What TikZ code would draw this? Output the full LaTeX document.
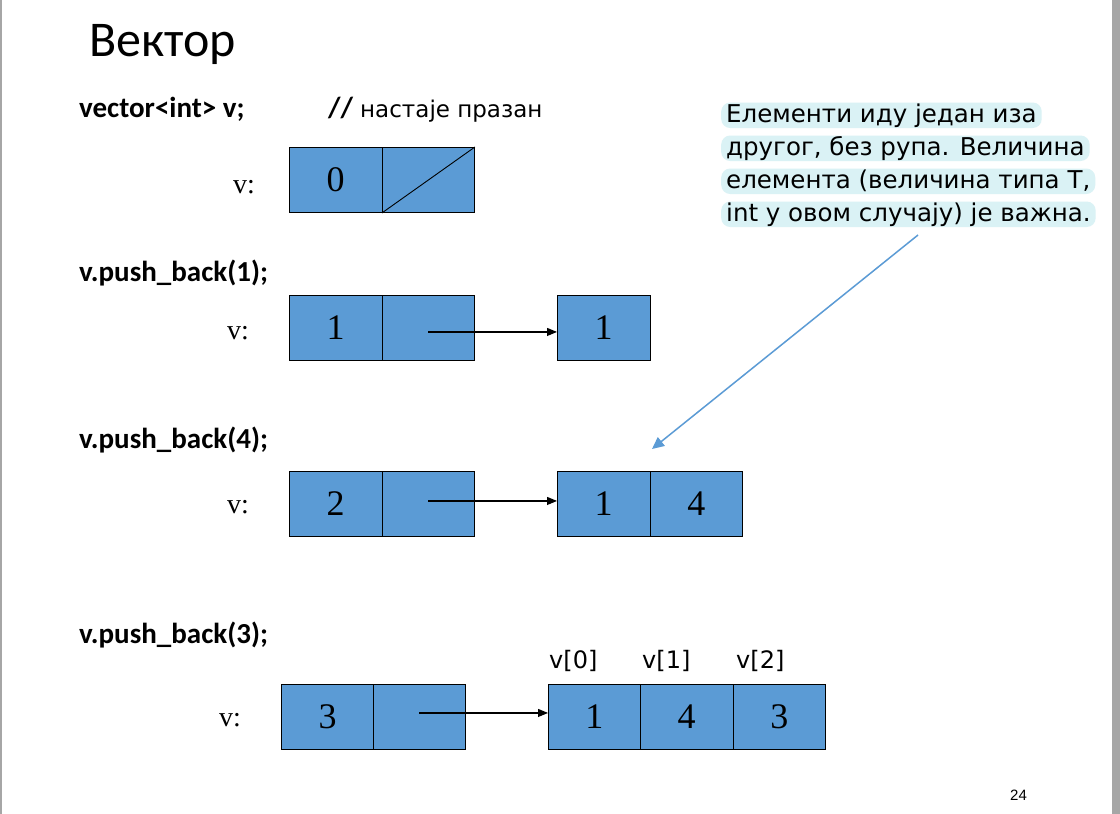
\documentclass[tikz,border=0pt]{standalone}
\usepackage{fontspec}
\setmainfont{Liberation Serif}
\newfontfamily\calfont{Carlito}
\newfontfamily\verfont{DejaVu Sans}
\newfontfamily\arfont{Liberation Sans}
\usetikzlibrary{arrows.meta}
\definecolor{cellblue}{HTML}{5B9BD5}
\definecolor{hl}{HTML}{DAF2F5}
\definecolor{edgegray}{HTML}{A6A6A6}
\begin{document}
\begin{tikzpicture}[x=1pt,y=-1pt,
  cell/.style={draw=black, line width=0.9pt, fill=cellblue, minimum width=92.5pt,
    minimum height=65pt, inner sep=0pt, anchor=north west,
    font=\fontsize{36}{36}\selectfont},
  codelbl/.style={anchor=base west, inner sep=0pt, font=\calfont\bfseries\fontsize{29}{29}\selectfont},
  vlbl/.style={anchor=base west, inner sep=0pt, font=\fontsize{28}{28}\selectfont},
  idx/.style={anchor=base west, inner sep=0pt, font=\verfont\fontsize{24}{24}\selectfont},
  hlline/.style={anchor=base west, fill=hl, rounded corners=9pt, inner xsep=5pt, inner ysep=0pt,
    text height=19.5pt, text depth=6pt, font=\verfont\fontsize{24.5}{24.5}\selectfont},
  ptr/.style={draw=black, line width=1.1pt, -{Triangle[length=10pt,width=8pt]}},
  callarrow/.style={draw=cellblue, line width=1.5pt, -{Triangle[length=12pt,width=11pt]}}
]
\useasboundingbox (0,0) rectangle (1120,814);
\fill[white] (0,0) rectangle (1120,814);
\fill[edgegray] (0,0) rectangle (2,814);
\fill[edgegray] (1112,0) rectangle (1120,814);

% title
\node[anchor=base west, inner sep=0pt, font=\calfont\fontsize{50}{50}\selectfont] (title) at (89,56) {Вектор};

% row 1
\node[codelbl] (code1) at (79,117) {vector<int> v;};
\node[codelbl] (slash) at (328,117) {//};
\node[anchor=base west, inner sep=0pt, font=\verfont\fontsize{23}{23}\selectfont] (cmt) at (360,117) {настаје празан};
\node[vlbl] (v1) at (233,193) {v:};
\node[cell] (a1) at (289,147) {0};
\node[cell, minimum width=92pt] (a2) at (382,147) {};
\draw[line width=0.9pt] (a2.south west) -- (a2.north east);

% row 2
\node[codelbl] (code2) at (79,281) {v.push\_back(1);};
\node[vlbl] (v2) at (227,339) {v:};
\node[cell] (b1) at (289,295) {1};
\node[cell, minimum width=92pt] (b2) at (382,295) {};
\node[cell] (bt1) at (557,295) {1};
\draw[ptr] ([yshift=-4pt]b2.center) -- ([yshift=-4pt]bt1.west);

% row 3
\node[codelbl] (code3) at (79,448) {v.push\_back(4);};
\node[vlbl] (v3) at (227,513) {v:};
\node[cell] (c1) at (289,471) {2};
\node[cell, minimum width=92pt] (c2) at (382,471) {};
\node[cell] (ct1) at (557,471) {1};
\node[cell, minimum width=92pt] (ct2) at (650,471) {4};
\draw[ptr] ([yshift=3pt]c2.center) -- ([yshift=3pt]ct1.west);

% row 4
\node[codelbl] (code4) at (79,643) {v.push\_back(3);};
\node[idx] (i0) at (549,668) {v[0]};
\node[idx] (i1) at (642,668) {v[1]};
\node[idx] (i2) at (736,668) {v[2]};
\node[vlbl] (v4) at (219,726) {v:};
\node[cell] (d1) at (281,684) {3};
\node[cell, minimum width=92pt] (d2) at (373,684) {};
\node[cell, minimum width=92pt] (dt1) at (548,684) {1};
\node[cell] (dt2) at (640,684) {4};
\node[cell, minimum width=92pt] (dt3) at (733,684) {3};
\draw[ptr] ([yshift=4pt]d2.center) -- ([yshift=4pt]dt1.west);

% callout
\node[hlline] (l1) at (721,122) {Елементи иду један иза};
\node[hlline] (l2) at (721,155) {другог, без рупа. Величина};
\node[hlline] (l3) at (721,188) {елемента (величина типа T,};
\node[hlline] (l4) at (721,221) {int у овом случају) је важна.};
\coordinate (cs) at (918,235);
\coordinate (ce) at (652,449);
\draw[callarrow] (cs) -- (ce);

% page number
\node[anchor=base west, inner sep=0pt, font=\arfont\fontsize{15}{15}\selectfont] (pg) at (1010,800) {24};
\end{tikzpicture}
\end{document}
